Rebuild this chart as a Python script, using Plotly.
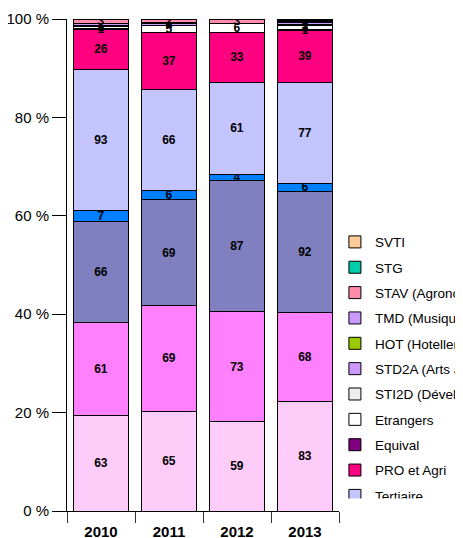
import plotly.graph_objects as go

years = ["2010", "2011", "2012", "2013"]

# series, stacked from bottom to top
series_names = [
    "Générale", "ST2S (Santé social)", "Industriel", "STL (Laboratoire)",
    "Tertiaire", "PRO et Agri", "Equival", "Etrangers",
    "STI2D (Développement durable)", "STD2A (Arts appliqués)", "HOT (Hotellerie)",
    "TMD (Musique et danse)", "STAV (Agronomie et vivant)", "STG", "SVTI",
]
generale = [63, 65, 59, 83]
st2s = [61, 69, 73, 68]
industriel = [66, 69, 87, 92]
stl = [7, 6, 4, 6]
tertiaire = [93, 66, 61, 77]
pro_agri = [26, 37, 33, 39]
equival = [1, 0, 0, 1]
etrangers = [1, 5, 6, 3]
sti2d = [1, 0, 0, 1]
std2a = [0, 1, 0, 1]
hot = [0, 0, 0, 1]
tmd = [1, 1, 0, 1]
stav = [3, 2, 3, 0]
stg = [0, 0, 0, 0]
svti = [0, 0, 0, 1]

y_ticks = [0, 20, 40, 60, 80, 100]
y_tick_labels = ["0 %", "20 %", "40 %", "60 %", "80 %", "100 %"]

series_values = [generale, st2s, industriel, stl, tertiaire, pro_agri, equival,
                 etrangers, sti2d, std2a, hot, tmd, stav, stg, svti]
colors = ["#FDCCF8", "#FF80FF", "#8080C0", "#0080FF", "#C4C4FF", "#FF0080",
          "#800080", "#FFFFFF", "#EEEEEE", "#CC99FF", "#99CC00", "#CC99FF",
          "#FF8CAA", "#00CCAA", "#FFCC99"]

font = "Arial, Liberation Sans, sans-serif"
fig = go.Figure()
n = len(series_names)
for i, (name, vals, col) in enumerate(zip(series_names, series_values, colors)):
    fig.add_trace(go.Bar(
        x=years, y=vals, name=name, legendgroup=name, legendrank=n - i,
        marker=dict(color=col, line=dict(color="#000000", width=1)),
        text=[str(v) if v > 0 else "" for v in vals],
        textposition="inside", insidetextanchor="middle",
        constraintext="none", textangle=0,
        textfont=dict(family=font, size=12, color="#000000", weight="bold"),
        hoverinfo="skip",
    ))

fig.update_layout(
    width=463, height=538,
    margin=dict(l=59, r=132, t=11, b=35, autoexpand=False),
    barmode="stack", barnorm="percent", bargap=0.2,
    plot_bgcolor="white", paper_bgcolor="white",
    font=dict(family=font, size=13, color="#000000"),
    showlegend=True,
    legend=dict(
        x=0.985, xanchor="left", y=0.578, yanchor="top",
        traceorder="grouped", tracegroupgap=4.8,
        font=dict(family=font, size=13.5, color="#000000"),
        maxheight=272,
        bgcolor="rgba(0,0,0,0)",
    ),
    xaxis=dict(
        type="category", showgrid=False, showline=True, linecolor="#000000", linewidth=1,
        ticks="outside", tickson="boundaries", ticklen=11, tickcolor="#333333",
        ticklabelstandoff=7,
        tickfont=dict(family=font, size=15, color="#000000", weight="bold"),
    ),
    yaxis=dict(
        range=[0, 100], tickvals=y_ticks, ticktext=y_tick_labels,
        showgrid=False, showline=True, linecolor="#000000", linewidth=1,
        ticks="outside", ticklen=14, tickcolor="#000000",
        tickfont=dict(family=font, size=15, color="#000000"), zeroline=False,
    ),
)

fig.write_html("out.html")
